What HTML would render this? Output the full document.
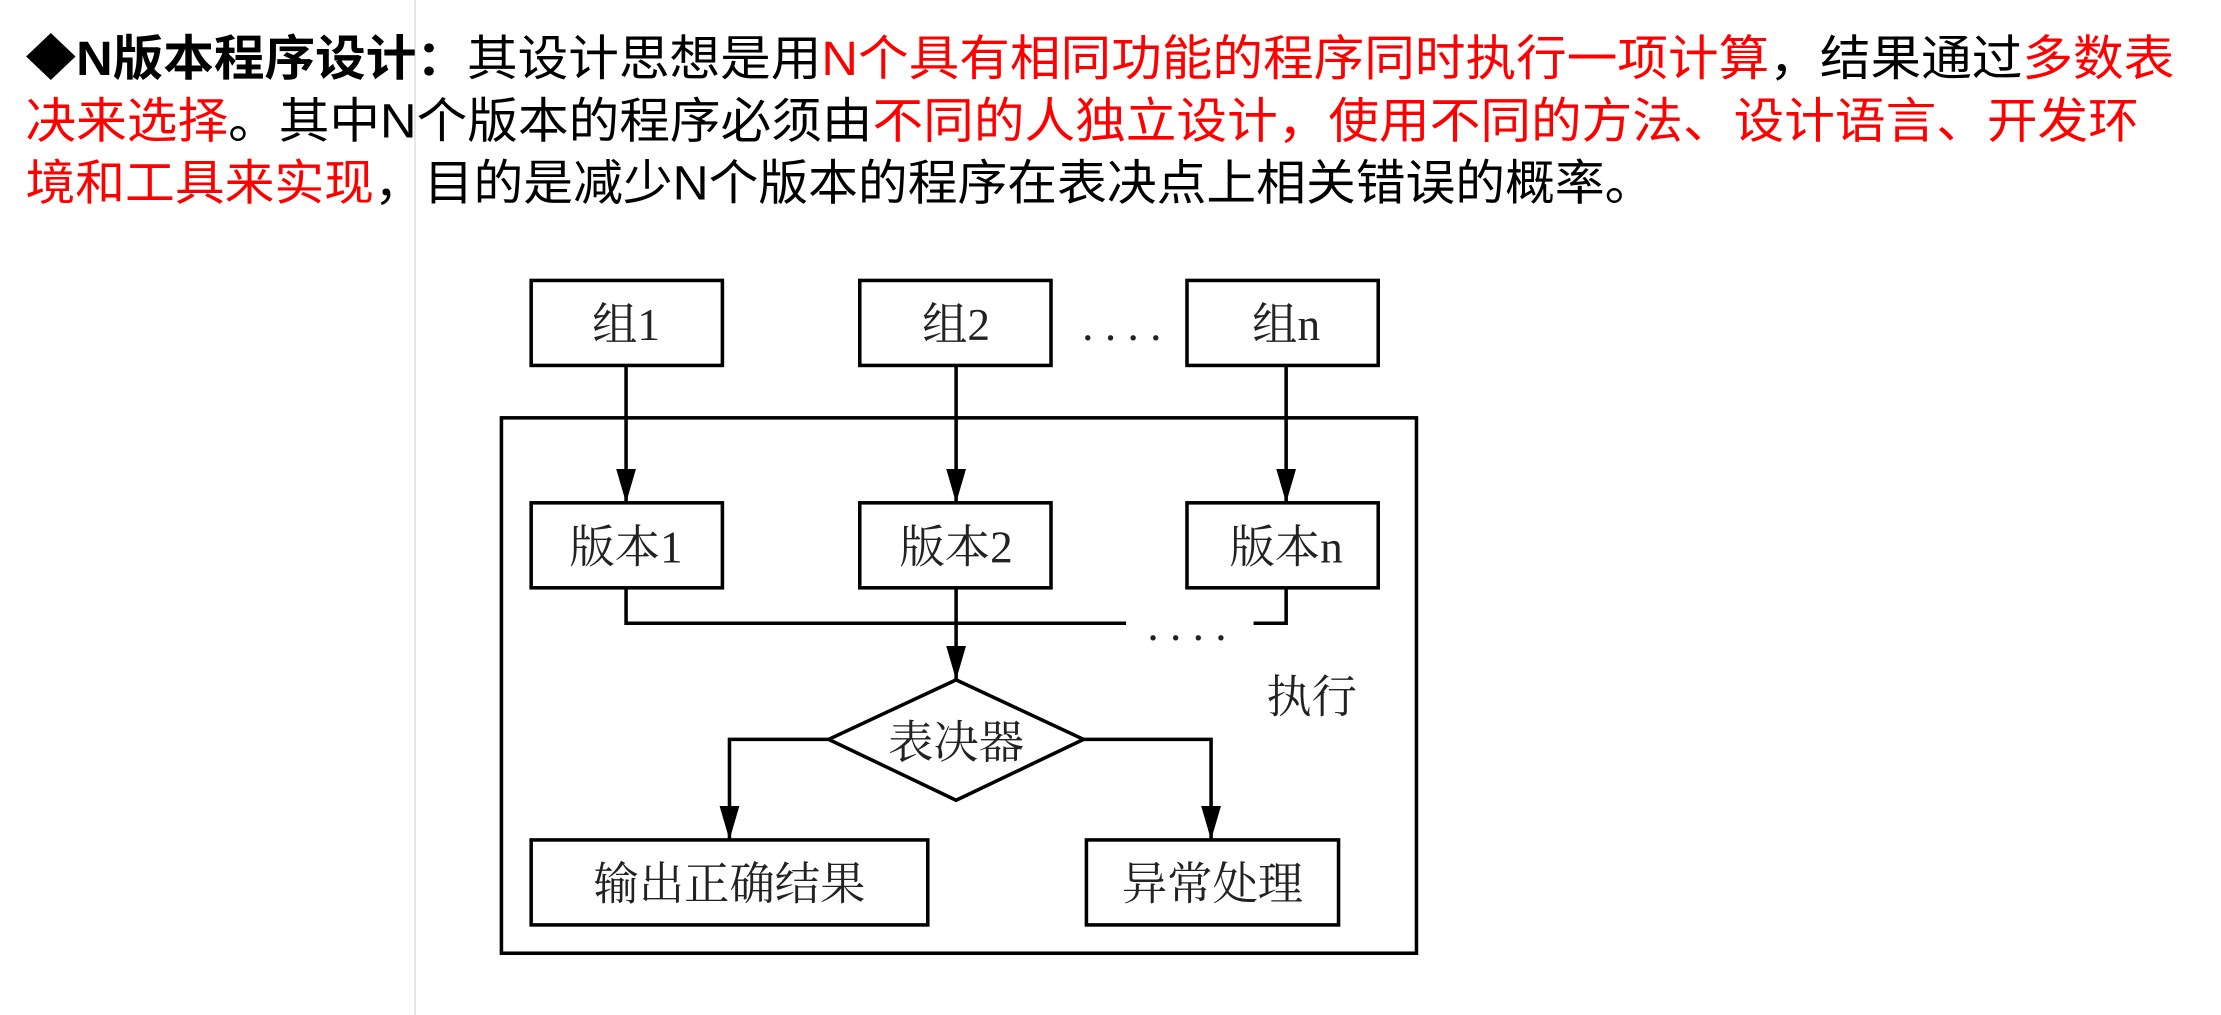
<!DOCTYPE html>
<html><head><meta charset="utf-8"><style>
html,body{margin:0;padding:0;background:#fff;}
svg{display:block;}
.h{font-family:"Liberation Sans","Noto Sans CJK SC",sans-serif;font-size:34px;}
.d{font-family:"Liberation Serif","Noto Serif CJK SC",serif;font-size:32px;fill:#222;}
.r{fill:#ff0000;}
</style></head><body>
<svg width="2221" height="1015" viewBox="0 0 1568 716.6" preserveAspectRatio="none" xmlns="http://www.w3.org/2000/svg">
<defs><marker id="a" markerWidth="24" markerHeight="14" refX="24" refY="7" orient="auto" markerUnits="userSpaceOnUse" viewBox="0 0 24 14"><path d="M0,0 L24,7 L0,14 z" fill="#000"/></marker></defs>
<line x1="293" y1="0" x2="293" y2="716.6" stroke="#ddd" stroke-width="1"/>
<text class="h" x="18" y="53" textLength="1517" lengthAdjust="spacingAndGlyphs"><tspan font-weight="bold">◆N版本程序设计：</tspan>其设计思想是用<tspan class="r">N个具有相同功能的程序同时执行一项计算</tspan>，结果通过<tspan class="r">多数表</tspan></text>
<text class="h" x="18" y="97" textLength="1492" lengthAdjust="spacingAndGlyphs"><tspan class="r">决来选择</tspan>。其中N个版本的程序必须由<tspan class="r">不同的人独立设计，使用不同的方法、设计语言、开发环</tspan></text>
<text class="h" x="18" y="141" textLength="1150" lengthAdjust="spacingAndGlyphs"><tspan class="r">境和工具来实现</tspan>，目的是减少N个版本的程序在表决点上相关错误的概率。</text>
<g fill="none" stroke="#000" stroke-width="2.5">
<rect x="375" y="198" width="135" height="60"/>
<rect x="607" y="198" width="135" height="60"/>
<rect x="838" y="198" width="135" height="60"/>
<rect x="354" y="295" width="646" height="378"/>
<rect x="375" y="355" width="135" height="60"/>
<rect x="607" y="355" width="135" height="60"/>
<rect x="838" y="355" width="135" height="60"/>
<rect x="375" y="593" width="280" height="60"/>
<rect x="767" y="593" width="178" height="60"/>
<polygon points="675,480 765,522 675,565 585,522"/>
<line x1="442" y1="258" x2="442" y2="355" marker-end="url(#a)"/>
<line x1="675" y1="258" x2="675" y2="355" marker-end="url(#a)"/>
<line x1="908" y1="258" x2="908" y2="355" marker-end="url(#a)"/>
<polyline points="442,415 442,440 795,440"/>
<polyline points="885,440 908,440 908,415"/>
<line x1="675" y1="415" x2="675" y2="480" marker-end="url(#a)"/>
<polyline points="585,522 515,522 515,593" marker-end="url(#a)"/>
<polyline points="765,522 855,522 855,593" marker-end="url(#a)"/>
</g>
<g class="d" text-anchor="middle">
<text x="442" y="240">组1</text>
<text x="675" y="240">组2</text>
<text x="908" y="240">组n</text>
<text x="792" y="240">. . . .</text>
<text x="442" y="397">版本1</text>
<text x="675" y="397">版本2</text>
<text x="908" y="397">版本n</text>
<text x="838" y="452">. . . .</text>
<text x="926" y="503">执行</text>
<text x="675" y="535">表决器</text>
<text x="515" y="635">输出正确结果</text>
<text x="856" y="635">异常处理</text>
</g>
</svg>
</body></html>
